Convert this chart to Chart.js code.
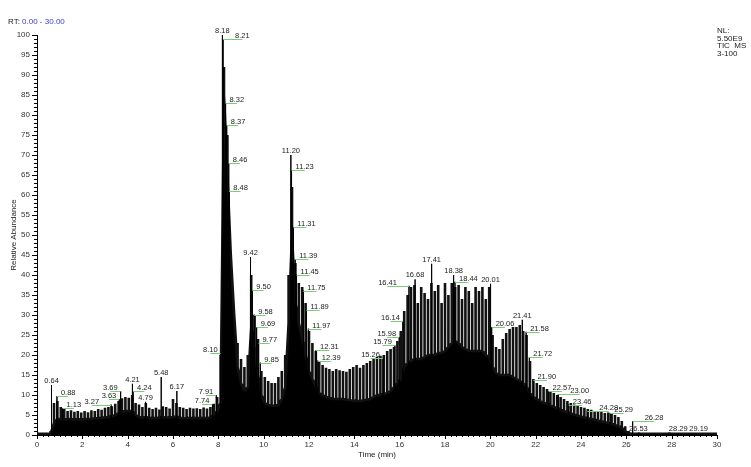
<!DOCTYPE html>
<html><head><meta charset="utf-8">
<script src="https://cdn.jsdelivr.net/npm/chart.js@4/dist/chart.umd.min.js"></script>
<style>html,body{margin:0;padding:0;background:#fff}#wrap{width:751px;height:467px;position:relative}</style>
</head><body><div id="wrap"><canvas id="c"></canvas></div>
<script>
// Sampling grid of the trace (minutes between samples, starting at 0.00)
const timeStep = 0.15;

// Tops of the scan spikes (relative abundance, %), one per sample
const upperEnvelope = [
  0.4,0.4,0.4,0.4,1.0,8,8.5,7,6.5,6,
  6.2,5.8,6,5.6,6,5.7,6.2,6,6.5,6.3,
  6.8,7,7.2,7.8,8.5,9.2,9.5,9.3,10,8,
  7.6,7,8,6.8,6.5,6.8,6.4,7.2,7,6.6,
  9,8,7,6.8,6.5,6.8,6.6,6.7,6.5,6.9,
  6.6,7,7.8,9.5,20,92,75,45,30,23,
  19,17,20,40,30,24,16,14.5,13.5,13,
  13,14.5,16,20,40,62,43,38,37,33,
  26,23,21,18.5,17.5,16.8,16.5,16,16.5,16.2,
  16,15.8,16.5,17,17.5,16.8,17.5,18,18.5,19,
  19.5,19.8,20,21,21.5,22,23.5,26,31,35,
  37,37.5,33,37,35.5,34,38,36,37.5,33,
  38,35,38,37,37.5,34,37,36,33,37,
  36,37,34,37,25,22,21.5,24,25.5,26.5,
  27,27,27.5,26,25,18.5,14,13,12.5,12,
  11.5,11,10.5,10,9.5,9,8.5,8,7.6,7.3,
  7,6.8,6.5,6.3,6,6,5.8,5.5,5.6,5.3,
  5,4.5,3.5,2.2,1,0.6,0.5,0.7,0.5,0.6,
  0.5,0.6,0.5,0.5,0.6,0.5,0.7,0.5,0.6,0.5,
  0.5,0.6,0.5,0.6,0.5,0.5,0.6,0.5,0.5,0.6,
  0.5
];

// Top of the solid (dense) part of the trace, one per sample
const lowerEnvelope = [
  0.3,0.3,0.3,0.3,0.3,3,4,4,3.8,4,
  4,3.8,4,3.8,4,4,4,4.2,4.2,4.3,
  4.4,4.5,4.6,5,5.5,5.8,6,6,6,5,
  4.5,4.3,4.5,4.3,4.2,4.3,4.3,4.5,4.4,4.3,
  4.5,4.6,4.3,4.2,4.2,4.3,4.2,4.3,4.2,4.3,
  4.2,4.4,5,6,8,85,65,45,30,17,
  13,11,12,27,22,15,10,8,7.5,7.3,
  7.3,7.5,9,12,28,50,33,28,24,20,
  16,14,12,10.5,10,9.5,9.3,9,9,9,
  9,8.8,8.7,8.6,8.5,8.5,8.6,8.8,9,9.5,
  10,10,10.2,10.5,11,12,13,14,17,18,
  18.5,19,19,19,19.5,20,20,20,20.5,20.5,
  21,22,23,23.5,23,22,21.5,21,21,21,
  21,21,20,19.5,17,15.5,15,15,15,15,
  14.5,14,13.5,13,12,10.5,9.5,9,8.5,8,
  7.8,7.4,7,6.7,6.4,6,5.7,5.4,5.1,4.8,
  4.6,4.4,4.2,4,3.8,3.6,3.4,3.2,3,2.8,
  2.5,2.2,1.8,1,0.4,0.3,0.3,0.3,0.3,0.3,
  0.3,0.3,0.3,0.3,0.3,0.3,0.3,0.3,0.3,0.3,
  0.3,0.3,0.3,0.3,0.3,0.3,0.3,0.3,0.3,0.3,
  0.3
];

// Labelled peaks: retention time (min) and relative abundance (%)
const peakTimes = [0.64,0.88,1.13,3.27,3.63,3.69,4.21,4.24,4.79,5.48,6.17,7.74,7.91,8.10,
  8.18,8.21,8.32,8.37,8.46,8.48,9.42,9.50,9.58,9.69,9.77,9.85,
  11.20,11.23,11.31,11.39,11.45,11.75,11.89,11.97,12.31,12.39,
  15.26,15.79,15.98,16.14,16.41,16.68,17.41,18.38,18.44,20.01,20.06,
  21.41,21.58,21.72,21.90,22.57,23.00,23.46,24.28,25.29,26.28,26.53,28.29,29.19];
const peakValues = [12.5,9.7,6.7,7.6,9,11,12.8,11,8.3,14.5,11,7.7,10,20.5,
  100,99,82.9,77.4,67.9,61,44.5,36.2,30.1,26.9,22.9,18.1,
  70,66.2,52,43.9,40.1,36.1,31.2,26.6,21.2,18.6,
  19.3,22.4,24.5,28.4,37.3,38.9,42.8,40,38.3,37.8,27,
  28.8,25.8,19.4,13.7,11,10.2,7.6,6,5.5,3.5,0.5,0.5,0.5];
// Label placement: t = above, r/R = right (near/far), l/L = left (near/far)
const peakLabelSide = ['t','r','r','L','l','l','t','r','t','t','t','l','l','l',
  't','R','r','r','r','r','t','r','r','r','r','r',
  't','r','r','r','r','r','r','r','r','r',
  'l','l','l','l','L','t','t','t','r','t','r',
  't','r','r','r','r','R','r','R','r','R','t','t','t'];

const sampleTimes = upperEnvelope.map((_, i) => Math.round(i * timeStep * 100) / 100);

const spikePoints = [];
sampleTimes.forEach((t, i) => {
  spikePoints.push({x: t, y: lowerEnvelope[i]}, {x: t, y: upperEnvelope[i]}, {x: t, y: lowerEnvelope[i]});
});
const basePoints = sampleTimes.map((t, i) => ({x: t, y: lowerEnvelope[i]}));
const peakPoints = [];
peakTimes.forEach((t, i) => {
  peakPoints.push({x: t, y: 0}, {x: t, y: peakValues[i]}, {x: t, y: 0});
});

const FONT = '8px "Liberation Sans", Arial, sans-serif';
const LABEL_FONT = '7.5px "Liberation Sans", Arial, sans-serif';
const GREEN = '#7ccc7c';

const decor = {
  id: 'decor',
  afterDraw(chart) {
    const {ctx, chartArea: a, scales: {x, y}} = chart;
    ctx.save();
    ctx.strokeStyle = '#000';
    ctx.lineWidth = 1;
    ctx.beginPath();
    for (let v = 0; v <= 100; v++) {
      const py = Math.round(y.getPixelForValue(v)) + 0.5;
      const len = v % 5 === 0 ? 5 : 3;
      ctx.moveTo(a.left - len, py); ctx.lineTo(a.left, py);
    }
    for (let k = 0; k <= 120; k++) {
      const px = Math.round(x.getPixelForValue(k * 0.25)) + 0.5;
      const len = k % 8 === 0 ? 4 : 2;
      ctx.moveTo(px, a.bottom); ctx.lineTo(px, a.bottom + len);
    }
    ctx.stroke();

    ctx.font = FONT;
    ctx.fillStyle = '#222';
    // axis titles
    ctx.textAlign = 'center';
    ctx.textBaseline = 'middle';
    ctx.fillText('Time (min)', (a.left + a.right) / 2, 455);
    ctx.save();
    ctx.translate(14, (a.top + a.bottom) / 2);
    ctx.rotate(-Math.PI / 2);
    ctx.fillText('Relative Abundance', 0, 0);
    ctx.restore();

    // header
    ctx.textAlign = 'left';
    ctx.fillStyle = '#222';
    ctx.fillText('RT:', 8, 22);
    const w0 = ctx.measureText('RT: ').width;
    ctx.fillStyle = '#3b3bc8';
    ctx.fillText('0.00 - 30.00', 8 + w0, 22);
    ctx.fillStyle = '#222';
    ['NL:', '5.50E9', 'TIC  MS', '3-100'].forEach((s, i) => ctx.fillText(s, 717, 31 + i * 7.6));

    // peak labels
    ctx.font = LABEL_FONT;
    ctx.textBaseline = 'alphabetic';
    peakTimes.forEach((t, i) => {
      const px = x.getPixelForValue(t);
      const py = y.getPixelForValue(peakValues[i]);
      const txt = t.toFixed(2);
      const w = ctx.measureText(txt).width;
      const side = peakLabelSide[i];
      ctx.fillStyle = '#222';
      if (side === 't') {
        ctx.textAlign = 'center';
        ctx.fillText(txt, px, py - 2);
        return;
      }
      let tx;
      if (side === 'r') tx = px + 4;
      else if (side === 'R') tx = px + 12;
      else if (side === 'l') tx = px - 3 - w;
      else tx = px - 12 - w;
      const cx = tx + w / 2;
      const ly = Math.round(py) + 0.5;
      ctx.strokeStyle = GREEN;
      ctx.beginPath();
      ctx.moveTo(px, ly); ctx.lineTo(cx, ly);
      ctx.stroke();
      ctx.textAlign = 'left';
      ctx.fillText(txt, tx, py - 1);
    });
    ctx.restore();
  }
};

new Chart(document.getElementById('c'), {
  type: 'line',
  data: {
    datasets: [
      {data: peakPoints, borderColor: '#000', borderWidth: 1, pointRadius: 0, fill: false, tension: 0, borderJoinStyle: 'bevel'},
      {data: spikePoints, borderColor: '#111', borderWidth: 2.6, pointRadius: 0, fill: false, tension: 0, borderJoinStyle: 'bevel'},
      {data: basePoints, borderColor: '#000', backgroundColor: '#000', borderWidth: 1, pointRadius: 0, fill: 'origin', tension: 0}
    ]
  },
  options: {
    responsive: true,
    maintainAspectRatio: false,
    animation: false,
    devicePixelRatio: 1,
    layout: {padding: {top: 35, right: 34, left: 0, bottom: 0}},
    plugins: {legend: {display: false}, tooltip: {enabled: false}},
    events: [],
    scales: {
      x: {
        type: 'linear', min: 0, max: 30,
        afterFit(s) { s.height = 32; },
        grid: {display: true, drawOnChartArea: false, drawTicks: false},
        border: {display: true, color: '#000', width: 1},
        ticks: {stepSize: 2, autoSkip: false, maxRotation: 0, padding: 5, color: '#333', font: {size: 8, family: '"Liberation Sans", Arial, sans-serif'}}
      },
      y: {
        min: 0, max: 100,
        afterFit(s) { s.width = 37; },
        grid: {display: true, drawOnChartArea: false, drawTicks: false},
        border: {display: true, color: '#000', width: 1},
        ticks: {stepSize: 5, autoSkip: false, padding: 7, color: '#333', font: {size: 8, family: '"Liberation Sans", Arial, sans-serif'}}
      }
    }
  },
  plugins: [decor]
});
</script>
</body></html>
